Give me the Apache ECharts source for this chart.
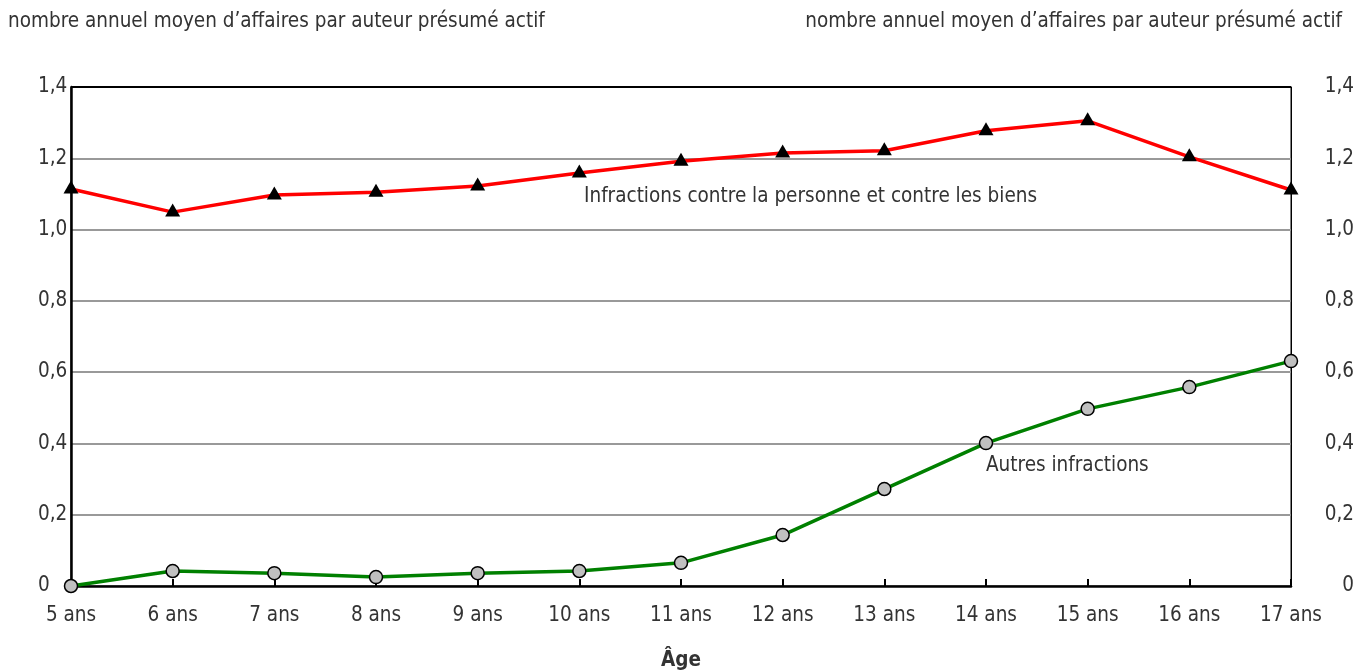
<!DOCTYPE html>
<html>
<head>
<meta charset="utf-8">
<script src="https://cdn.jsdelivr.net/npm/echarts@6/dist/echarts.min.js"></script>
<style>
html,body{margin:0;padding:0;background:#fff;overflow:hidden;}
#c{width:1368px;height:671px;}
</style>
</head>
<body>
<div id="c"></div>
<script>
const categories = ['5 ans','6 ans','7 ans','8 ans','9 ans','10 ans','11 ans','12 ans','13 ans','14 ans','15 ans','16 ans','17 ans'];
const personneBiens = [1.114,1.049,1.097,1.105,1.122,1.159,1.192,1.215,1.221,1.277,1.305,1.204,1.111];
const autres = [0.000,0.042,0.036,0.025,0.036,0.042,0.065,0.143,0.272,0.401,0.497,0.558,0.631];
const yTicks = [0,0.2,0.4,0.6,0.8,1.0,1.2,1.4];
const axisTitle = 'nombre annuel moyen d\u2019affaires par auteur présumé actif';

const FONT = '"DejaVu Sans Condensed","Liberation Sans Narrow",sans-serif';
const FS = 20.5;
const TXT = '#333';
const fmt = v => (Math.abs(v) < 1e-9 ? '0' : v.toFixed(1).replace('.', ','));
const splitColors = yTicks.map((v, i) => i === yTicks.length - 1 ? '#000' : '#999');

const chart = echarts.init(document.getElementById('c'), null, {renderer:'canvas'});
chart.setOption({
  animation:false,
  backgroundColor:'#fff',
  textStyle:{fontFamily:FONT},
  grid:{left:71,right:77,top:87,bottom:85,containLabel:false,outerBoundsMode:'none',
        show:true,borderColor:'#000',borderWidth:1,backgroundColor:'transparent'},
  xAxis:{
    type:'category',data:categories,boundaryGap:false,
    name:'Âge',nameLocation:'middle',nameGap:64,
    nameTextStyle:{fontFamily:FONT,fontSize:FS,fontWeight:'bold',color:TXT},
    axisLine:{lineStyle:{color:'#000',width:2.5}},
    axisTick:{inside:true,length:7,lineStyle:{color:'#000',width:2}},
    axisLabel:{fontFamily:FONT,fontSize:FS,color:TXT,margin:19},
    splitLine:{show:false}
  },
  yAxis:[{
    type:'value',min:yTicks[0],max:yTicks[yTicks.length-1],interval:0.2,position:'left',
    axisLine:{show:true,lineStyle:{color:'#000',width:2.5}},
    axisTick:{show:false},
    axisLabel:{fontFamily:FONT,fontSize:FS,color:TXT,align:'left',margin:33,formatter:fmt},
    splitLine:{show:true,lineStyle:{color:splitColors,width:2}}
  },{
    type:'value',min:yTicks[0],max:yTicks[yTicks.length-1],interval:0.2,position:'right',
    axisLine:{show:true,lineStyle:{color:'#000',width:1}},
    axisTick:{show:false},
    axisLabel:{fontFamily:FONT,fontSize:FS,color:TXT,align:'right',margin:63,formatter:fmt},
    splitLine:{show:false}
  }],
  series:[{
    name:'Infractions contre la personne et contre les biens',
    type:'line',data:personneBiens,yAxisIndex:0,
    lineStyle:{color:'#ff0000',width:3.5},
    symbol:'triangle',symbolSize:[15,13],symbolOffset:[0,-2],
    itemStyle:{color:'#000'},z:3
  },{
    name:'Autres infractions',
    type:'line',data:autres,yAxisIndex:0,
    lineStyle:{color:'#008000',width:3.5},
    symbol:'circle',symbolSize:13,
    itemStyle:{color:'#c0c0c0',borderColor:'#000',borderWidth:1.5},z:4
  }],
  graphic:[
    {type:'text',left:8,top:11,style:{text:axisTitle,font:FS+'px '+FONT,fill:TXT}},
    {type:'text',right:26,top:11,style:{text:axisTitle,font:FS+'px '+FONT,fill:TXT}},
    {type:'text',left:584,top:186,style:{text:'Infractions contre la personne et contre les biens',font:FS+'px '+FONT,fill:TXT}},
    {type:'text',left:986,top:455,style:{text:'Autres infractions',font:FS+'px '+FONT,fill:TXT}}
  ]
});
</script>
</body>
</html>
